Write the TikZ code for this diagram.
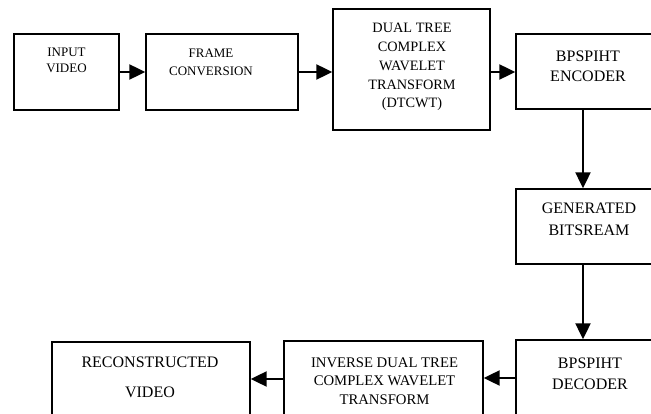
\documentclass[tikz,border=0pt]{standalone}
\usepackage{fontspec}
\setmainfont{Liberation Serif}
\usetikzlibrary{arrows.meta}
\usetikzlibrary{positioning}

\begin{document}
\begin{tikzpicture}[line cap=butt,line join=miter,x=1pt,y=-1pt,
  blk/.style={draw,line width=1.4pt,inner sep=0pt},
  txt/.style={anchor=base,align=center,inner sep=0pt},
  flow/.style={line width=2.2pt,-{Triangle[length=16pt,width=15pt]}}]
\useasboundingbox (0,0) rectangle (651,414);
\clip (0,0) rectangle (651,414);
% blocks
\node[blk,minimum width=105pt,minimum height=76pt] (input) at (66.5,72) {};
\node[blk,minimum width=152pt,minimum height=76pt] (frame) at (222,72) {};
\node[blk,minimum width=157pt,minimum height=121pt] (dtcwt) at (411.5,69.5) {};
\node[blk,minimum width=144pt,minimum height=75pt] (enc) at (588,71.5) {};
\node[blk,minimum width=144pt,minimum height=75pt] (bits) at (588,226.5) {};
\node[blk,minimum width=144pt,minimum height=80pt] (dec) at (588,380) {};
\node[blk,minimum width=199pt,minimum height=79pt] (idtcwt) at (383.5,380.5) {};
\node[blk,minimum width=198pt,minimum height=78pt] (recon) at (151,381) {};
% texts (placed at last baseline)
\node[txt,font=\fontsize{13}{16}\selectfont] (tinput) at (66.5,73) {INPUT\\VIDEO};
\node[txt,font=\fontsize{13}{18}\selectfont] (tframe) at (211,76) {FRAME\\CONVERSION};
\node[txt,font=\fontsize{14.3}{18.8}\selectfont] (tdtcwt) at (412,108) {DUAL TREE\\COMPLEX\\WAVELET\\TRANSFORM\\(DTCWT)};
\node[txt,font=\fontsize{16}{20}\selectfont] (tenc) at (588,82) {BPSPIHT\\ENCODER};
\node[txt,font=\fontsize{16}{22}\selectfont] (tbits) at (589,236) {GENERATED\\BITSREAM};
\node[txt,font=\fontsize{16}{21}\selectfont] (tdec) at (590,389) {BPSPIHT\\DECODER};
\node[txt,font=\fontsize{14.7}{18.5}\selectfont] (tidtcwt) at (384.5,404) {INVERSE DUAL TREE\\COMPLEX WAVELET\\TRANSFORM};
\node[txt,font=\fontsize{16}{30}\selectfont] (trecon) at (150,397) {RECONSTRUCTED\\VIDEO};
% connectors
\draw[flow] (input.east) -- (frame.west);
\draw[flow] (frame.east) -- (frame.east -| dtcwt.west);
\draw[flow] (dtcwt.east |- frame.east) -- (frame.east -| enc.west);
\draw[flow] ([xshift=-5pt]enc.south) -- ([xshift=-5pt]bits.north);
\draw[flow] ([xshift=-5pt]bits.south) -- ([xshift=-5pt]dec.north);
\draw[flow] ([yshift=2pt]dec.west) -- ([yshift=2pt]dec.west -| idtcwt.east);
\draw[flow] ([yshift=1.5pt]idtcwt.west) -- ([yshift=1.5pt]idtcwt.west -| recon.east);
\end{tikzpicture}
\end{document}
